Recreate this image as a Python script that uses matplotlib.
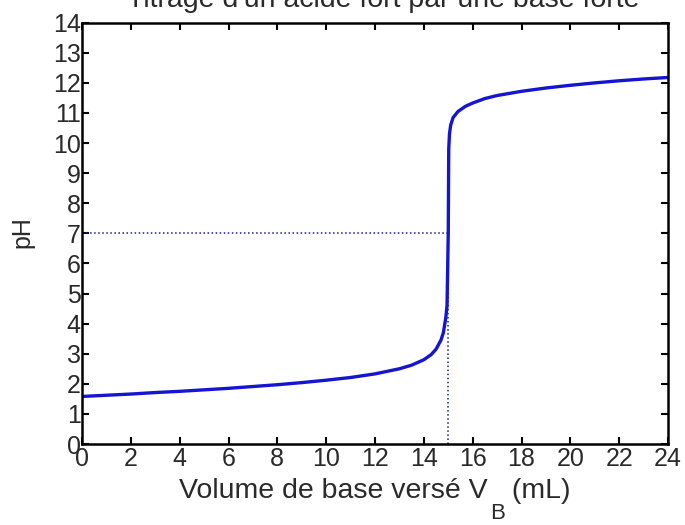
import matplotlib
matplotlib.use("Agg")
import matplotlib.pyplot as plt

# Data
volume_ml = [0, 1, 2, 3, 4, 5, 6, 7, 8, 9, 10, 11, 12, 13, 13.5, 14, 14.3, 14.5,
             14.7, 14.8, 14.9, 14.95, 15.0, 15.02, 15.05, 15.1, 15.2, 15.4, 15.7,
             16, 16.5, 17, 18, 19, 20, 21, 22, 23, 24]
ph_values = [1.58, 1.62, 1.66, 1.71, 1.75, 1.80, 1.85, 1.91, 1.97, 2.04, 2.12,
             2.21, 2.33, 2.50, 2.62, 2.80, 2.97, 3.15, 3.45, 3.70, 4.20, 4.60,
             7.00, 9.80, 10.30, 10.60, 10.85, 11.05, 11.22, 11.33, 11.48, 11.58,
             11.72, 11.83, 11.92, 12.00, 12.07, 12.13, 12.18]
equiv_volume = 15
equiv_ph = 7
x_ticks = list(range(0, 25, 2))
y_ticks = list(range(0, 15))

plt.rcParams['font.family'] = ['Liberation Sans', 'DejaVu Sans']

TXT = '#2a2a2a'
W, H = 685, 525
fig = plt.figure(figsize=(W/100, H/100), dpi=100)
ax = fig.add_axes([82/W, (H-444)/H, 586/W, (444-22.7)/H])

ax.plot([0, equiv_volume], [equiv_ph, equiv_ph], linestyle=':', color='#1a1a9a', linewidth=1.1)
ax.plot([equiv_volume, equiv_volume], [0, equiv_ph], linestyle=':', color='#1a1a9a', linewidth=1.1)
ax.plot(volume_ml, ph_values, color='#1414d2', linewidth=2.4, solid_capstyle='butt')

ax.set_xlim(0, 24)
ax.set_ylim(0, 14)
ax.set_xticks(x_ticks)
ax.set_yticks(y_ticks)
ax.tick_params(direction='in', length=5, width=1.5, top=True, right=True,
               labelsize=18, colors='black', labelcolor=TXT)
ax.tick_params(axis='x', pad=2)
ax.tick_params(axis='y', pad=1)
for s in ax.spines.values():
    s.set_linewidth(1.8)

# x label built from pieces so the subscript B sits low like the reference
renderer = fig.canvas.get_renderer()
main_fs = 20.5
t1 = fig.text(0, 1 - 498/H, 'Volume de base versé V', ha='left', va='baseline',
              fontsize=main_fs, color=TXT)
t2 = fig.text(0, 1 - 519/H, 'B', ha='left', va='baseline', fontsize=16, color=TXT)
t3 = fig.text(0, 1 - 498/H, ' (mL)', ha='left', va='baseline', fontsize=main_fs, color=TXT)
w1 = t1.get_window_extent(renderer).width
w2 = t2.get_window_extent(renderer).width
w3 = t3.get_window_extent(renderer).width
total = w1 + 2 + w2 + w3
x0 = 375 - total / 2
t1.set_x(x0 / W)
t2.set_x((x0 + w1 + 2) / W)
t3.set_x((x0 + w1 + 2 + w2) / W)

fig.text(22/W, 1 - 232/H, 'pH', rotation=90, ha='center', va='center',
         fontsize=18, color=TXT)

fig.text(383/W, 1 - 7/H, "Titrage d'un acide fort par une base forte",
         ha='center', va='baseline', fontsize=main_fs, color=TXT)

fig.savefig('out.png', dpi=100)
